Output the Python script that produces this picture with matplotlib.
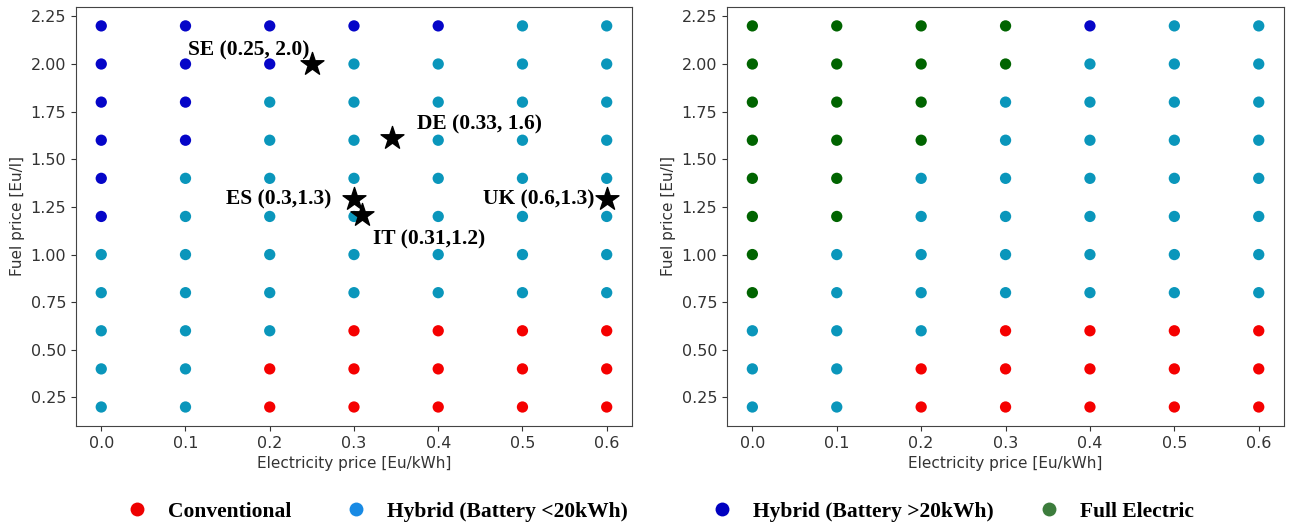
import numpy as np
import matplotlib
matplotlib.use('Agg')
import matplotlib.pyplot as plt
from matplotlib.lines import Line2D

# grid of prices
elec_price = [0.0, 0.1, 0.2, 0.3, 0.4, 0.5, 0.6]
fuel_price = [2.2, 2.0, 1.8, 1.6, 1.4, 1.2, 1.0, 0.8, 0.6, 0.4, 0.2]

# C = conventional, H = hybrid <20kWh, B = hybrid >20kWh, E = full electric
# one string per fuel price row (top row first), one letter per electricity price
left_classes = [
    'BBBBBHH',
    'BBBHHHH',
    'BBHHHHH',
    'BBHHHHH',
    'BHHHHHH',
    'BHHHHHH',
    'HHHHHHH',
    'HHHHHHH',
    'HHHCCCC',
    'HHCCCCC',
    'HHCCCCC',
]
right_classes = [
    'EEEEBHH',
    'EEEEHHH',
    'EEEHHHH',
    'EEEHHHH',
    'EEHHHHH',
    'EEHHHHH',
    'EHHHHHH',
    'EHHHHHH',
    'HHHCCCC',
    'HHCCCCC',
    'HHCCCCC',
]

# countries marked on the left chart
countries = ['SE (0.25, 2.0)', 'DE (0.33, 1.6)', 'ES (0.3,1.3)', 'IT (0.31,1.2)', 'UK (0.6,1.3)']
country_elec = [0.25, 0.345, 0.30, 0.31, 0.60]
country_fuel = [2.0, 1.61, 1.29, 1.21, 1.29]

legend_labels = ['Conventional', 'Hybrid (Battery <20kWh)', 'Hybrid (Battery >20kWh)', 'Full Electric']
legend_codes = ['C', 'H', 'B', 'E']

point_colors = {'C': '#f50000', 'H': '#0a96bb', 'B': '#0505c8', 'E': '#006400'}
legend_colors = {'C': '#ee0000', 'H': '#188ae4', 'B': '#0000c0', 'E': '#3c7c3c'}


def draw_grid(ax, classes):
    xs, ys, cs = [], [], []
    for fuel, row in zip(fuel_price, classes):
        for elec, code in zip(elec_price, row):
            xs.append(elec)
            ys.append(fuel)
            cs.append(point_colors[code])
    ax.scatter(xs, ys, c=cs, s=66, linewidths=0)
    ax.set_xlabel('Electricity price [Eu/kWh]', fontsize=11, color='#333333')
    ax.set_ylabel('Fuel price [Eu/l]', fontsize=11, color='#333333')
    ax.set_xticks(elec_price)
    ax.set_yticks([0.25, 0.5, 0.75, 1.0, 1.25, 1.5, 1.75, 2.0, 2.25])
    ax.tick_params(labelsize=11.5, colors='#333333')
    for sp in ax.spines.values():
        sp.set_color('#444444')


fig = plt.figure(figsize=(12.9, 5.26), dpi=100)
ax1 = fig.add_axes([0.0589, 0.190, 0.431, 0.797])
ax2 = fig.add_axes([0.5636, 0.190, 0.4318, 0.797])

draw_grid(ax1, left_classes)
draw_grid(ax2, right_classes)

# country stars + labels
ax1.scatter(country_elec, country_fuel, marker='*', s=300, color='black', zorder=5)
serif_bold = dict(family='Liberation Serif', weight='bold', fontsize=15.5)
offsets = [(-1.5, 10, 'right'), (18, 10, 'left'), (-16, 0, 'right'), (7.5, -18, 'left'), (-9, 0, 'right')]
for name, x, y, (dx, dy, ha) in zip(countries, country_elec, country_fuel, offsets):
    ax1.annotate(name, (x, y), xytext=(dx, dy), textcoords='offset points',
                 ha=ha, va='center', **serif_bold)

# bottom legend, one entry per block
legend_x = [0.0977, 0.2674, 0.5512, 0.8047]
for code, label, lx in zip(legend_codes, legend_labels, legend_x):
    h = Line2D([], [], marker='o', linestyle='none', markersize=10,
               markerfacecolor=legend_colors[code], markeredgewidth=0)
    fig.legend([h], [label], loc='center left', bbox_to_anchor=(lx, 0.027),
               frameon=False, handletextpad=0.94, borderpad=0, borderaxespad=0,
               handlelength=1.0,
               prop=dict(family='Liberation Serif', weight='bold', size=15.5))

fig.savefig('out.png', dpi=100)
